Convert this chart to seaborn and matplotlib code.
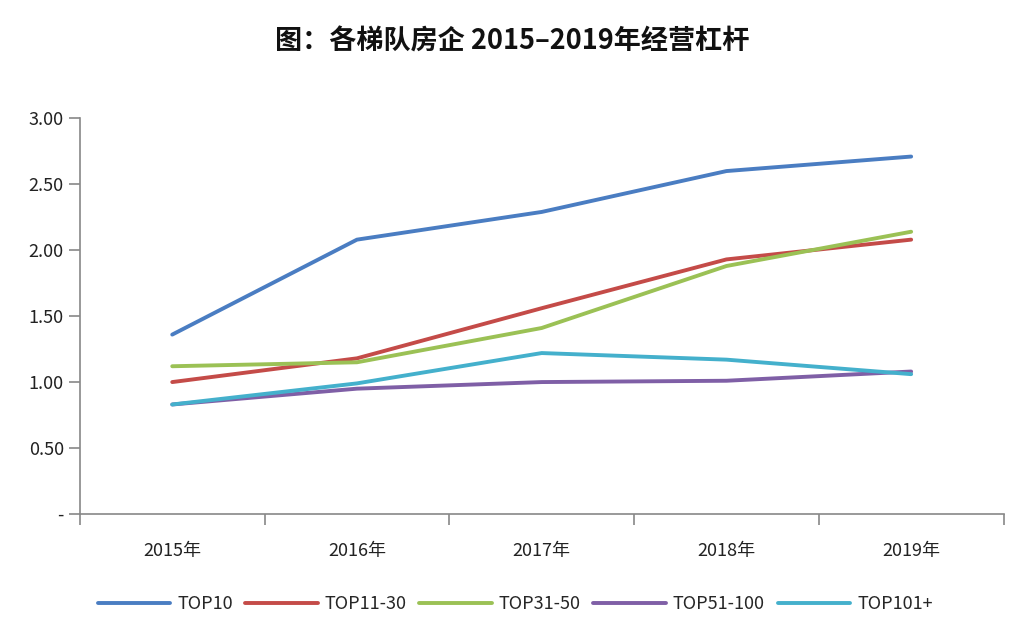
import pandas as pd
import matplotlib
matplotlib.use("Agg")
import matplotlib.pyplot as plt
import seaborn as sns

# data
years = ["2015年", "2016年", "2017年", "2018年", "2019年"]
top10 = [1.36, 2.08, 2.29, 2.60, 2.71]
top11_30 = [1.00, 1.18, 1.56, 1.93, 2.08]
top31_50 = [1.12, 1.15, 1.41, 1.88, 2.14]
top51_100 = [0.83, 0.95, 1.00, 1.01, 1.08]
top101 = [0.83, 0.99, 1.22, 1.17, 1.06]
series_names = ["TOP10", "TOP11-30", "TOP31-50", "TOP51-100", "TOP101+"]
colors = ["#4A7DC2", "#C44B48", "#9BC155", "#7F5FA6", "#44B0CC"]

rows = []
for name, vals in zip(series_names, [top10, top11_30, top31_50, top51_100, top101]):
    for i, v in enumerate(vals):
        rows.append({"pos": i, "year": years[i], "series": name, "value": v})
df = pd.DataFrame(rows)

sns.set_style("white")
plt.rcParams['font.family'] = ['Noto Sans CJK SC', 'DejaVu Sans']

fig = plt.figure(figsize=(10.24, 6.26), dpi=100)
ax = fig.add_axes([0.078, 0.179, 0.902, 0.632])

sns.lineplot(data=df, x="pos", y="value", hue="series", hue_order=series_names,
             palette=colors, linewidth=2.8, ax=ax, legend=True)

ax.set_xlim(-0.5, 4.5)
ax.set_ylim(0, 3.0)
ax.set_yticks([0, 0.5, 1.0, 1.5, 2.0, 2.5, 3.0])
ax.set_yticklabels(["-", "0.50", "1.00", "1.50", "2.00", "2.50", "3.00"])
ax.set_xticks(range(5))
ax.set_xticklabels(years)
ax.set_xticks([-0.5, 0.5, 1.5, 2.5, 3.5, 4.5], minor=True)
ax.tick_params(axis="x", which="major", bottom=True, length=0, pad=20,
               labelsize=13, labelcolor="#222222")
ax.tick_params(axis="x", which="minor", bottom=True, length=8, width=1.2,
               color="#888888", direction="out")
ax.tick_params(axis="y", which="major", left=True, length=8, width=1.2,
               color="#888888", direction="out", labelsize=13, labelcolor="#222222")
ax.set_xlabel("")
ax.set_ylabel("")

for s in ["top", "right"]:
    ax.spines[s].set_visible(False)
for s in ["left", "bottom"]:
    ax.spines[s].set_color("#888888")
    ax.spines[s].set_linewidth(1.2)

handles, labels = ax.get_legend_handles_labels()
ax.legend_.remove()
fig.legend(handles, labels, loc="center", bbox_to_anchor=(0.503, 0.035), ncol=5,
           frameon=False, fontsize=13, handlelength=4.0, handletextpad=0.4,
           columnspacing=0.7)

fig.text(0.5, 0.933, "图：各梯队房企 2015–2019年经营杠杆", ha="center", va="center",
         fontsize=19.5, fontweight="bold", color="#111111")

fig.savefig("out.png", dpi=100, facecolor="white")
